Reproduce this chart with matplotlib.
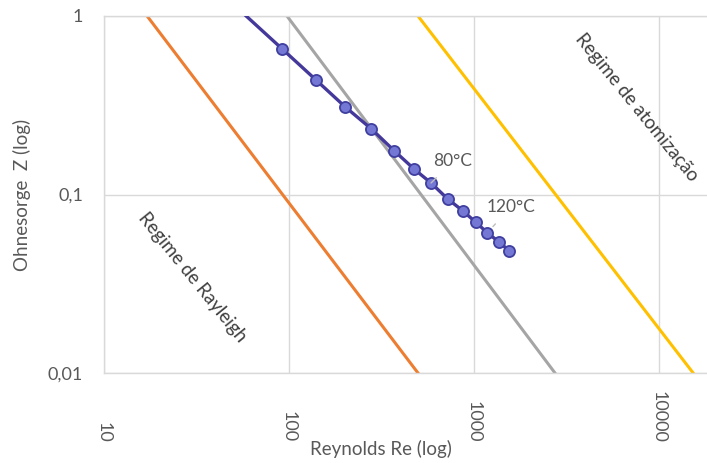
import matplotlib
matplotlib.use("Agg")
import matplotlib.pyplot as plt
from matplotlib.ticker import FixedLocator, FixedFormatter, NullLocator

plt.rcParams['font.family'] = ['Lato', 'DejaVu Sans']

# regime boundaries (Re, Oh), read where they cross the top and bottom of the plot
re_rayleigh = [17.1, 498]
oh_rayleigh = [1.0, 0.01]
re_middle = [97.5, 2740]
oh_middle = [1.0, 0.01]
re_atom = [498, 15300]
oh_atom = [1.0, 0.01]

# measured points (first one lies above the plot and is clipped)
re_pts = [48, 92, 140, 201, 279, 370, 474, 586, 721, 869, 1022, 1180, 1370, 1553]
oh_pts = [1.21, 0.653, 0.438, 0.310, 0.233, 0.176, 0.139, 0.116, 0.0944,
          0.0811, 0.0699, 0.0611, 0.0540, 0.0483]

x_ticks = [10, 100, 1000, 10000]
x_labels = ['10', '100', '1000', '10000']
y_ticks = [0.01, 0.1, 1]
y_labels = ['0,01', '0,1', '1']

txt = '#595959'
grid = '#d9d9d9'

fig = plt.figure(figsize=(7.07, 4.63), dpi=100)
ax = fig.add_axes([104 / 707, 1 - 373 / 463, 740 / 707, 357 / 463])
ax.set_xscale('log')
ax.set_yscale('log')
ax.set_xlim(10, 100000)
ax.set_ylim(0.01, 1)

ax.plot(re_rayleigh, oh_rayleigh, color='#ED7D31', lw=2.2, zorder=2)
ax.plot(re_middle, oh_middle, color='#A5A5A5', lw=2.2, zorder=2)
ax.plot(re_atom, oh_atom, color='#FFC000', lw=2.2, zorder=2)
ax.plot(re_pts, oh_pts, color='#44399B', lw=2.4, marker='o', ms=8,
        mfc='#7478D4', mec='#3F3FA0', mew=1.3, zorder=3)

ax.xaxis.set_major_locator(FixedLocator(x_ticks))
ax.xaxis.set_major_formatter(FixedFormatter(x_labels))
ax.xaxis.set_minor_locator(NullLocator())
ax.yaxis.set_major_locator(FixedLocator(y_ticks))
ax.yaxis.set_major_formatter(FixedFormatter(y_labels))
ax.yaxis.set_minor_locator(NullLocator())

ax.tick_params(axis='x', length=0, pad=50, labelsize=13, labelcolor=txt)
ax.tick_params(axis='y', length=0, pad=15, labelsize=13, labelcolor=txt)
plt.setp(ax.get_xticklabels(), rotation=-90, va='bottom', ha='center')

ax.grid(True, color=grid, lw=1)
ax.set_axisbelow(True)
for s in ax.spines.values():
    s.set_color(grid)
    s.set_linewidth(1)

ax.set_xlabel('Reynolds Re (log)', fontsize=13.5, color=txt)
ax.xaxis.set_label_coords((381 - 104) / 740, (373 - 440) / 357)
ax.set_ylabel('Ohnesorge  Z (log)', fontsize=13.5, color=txt)
ax.yaxis.set_label_coords((31 - 104) / 740, 0.5)

# temperature labels with leader lines
ax.annotate('80°C', xy=(re_pts[7], oh_pts[7]), xytext=(769, 0.154),
            ha='center', va='center', fontsize=12.5, color=txt,
            arrowprops=dict(arrowstyle='-', color='#bfbfbf', lw=1,
                            shrinkA=6, shrinkB=6))
ax.annotate('120°C', xy=(re_pts[11], oh_pts[11]), xytext=(1585, 0.0851),
            ha='center', va='center', fontsize=12.5, color=txt,
            arrowprops=dict(arrowstyle='-', color='#bfbfbf', lw=1,
                            shrinkA=6, shrinkB=6))

ax.text(0.120, 0.269, 'Regime de Rayleigh', transform=ax.transAxes,
        rotation=-51, rotation_mode='anchor', ha='center', va='center',
        fontsize=13.5, color='#404040')
ax.text(0.720, 0.745, 'Regime de atomização', transform=ax.transAxes,
        rotation=-51, rotation_mode='anchor', ha='center', va='center',
        fontsize=13.5, color='#404040')

fig.savefig('out.png', dpi=100)
